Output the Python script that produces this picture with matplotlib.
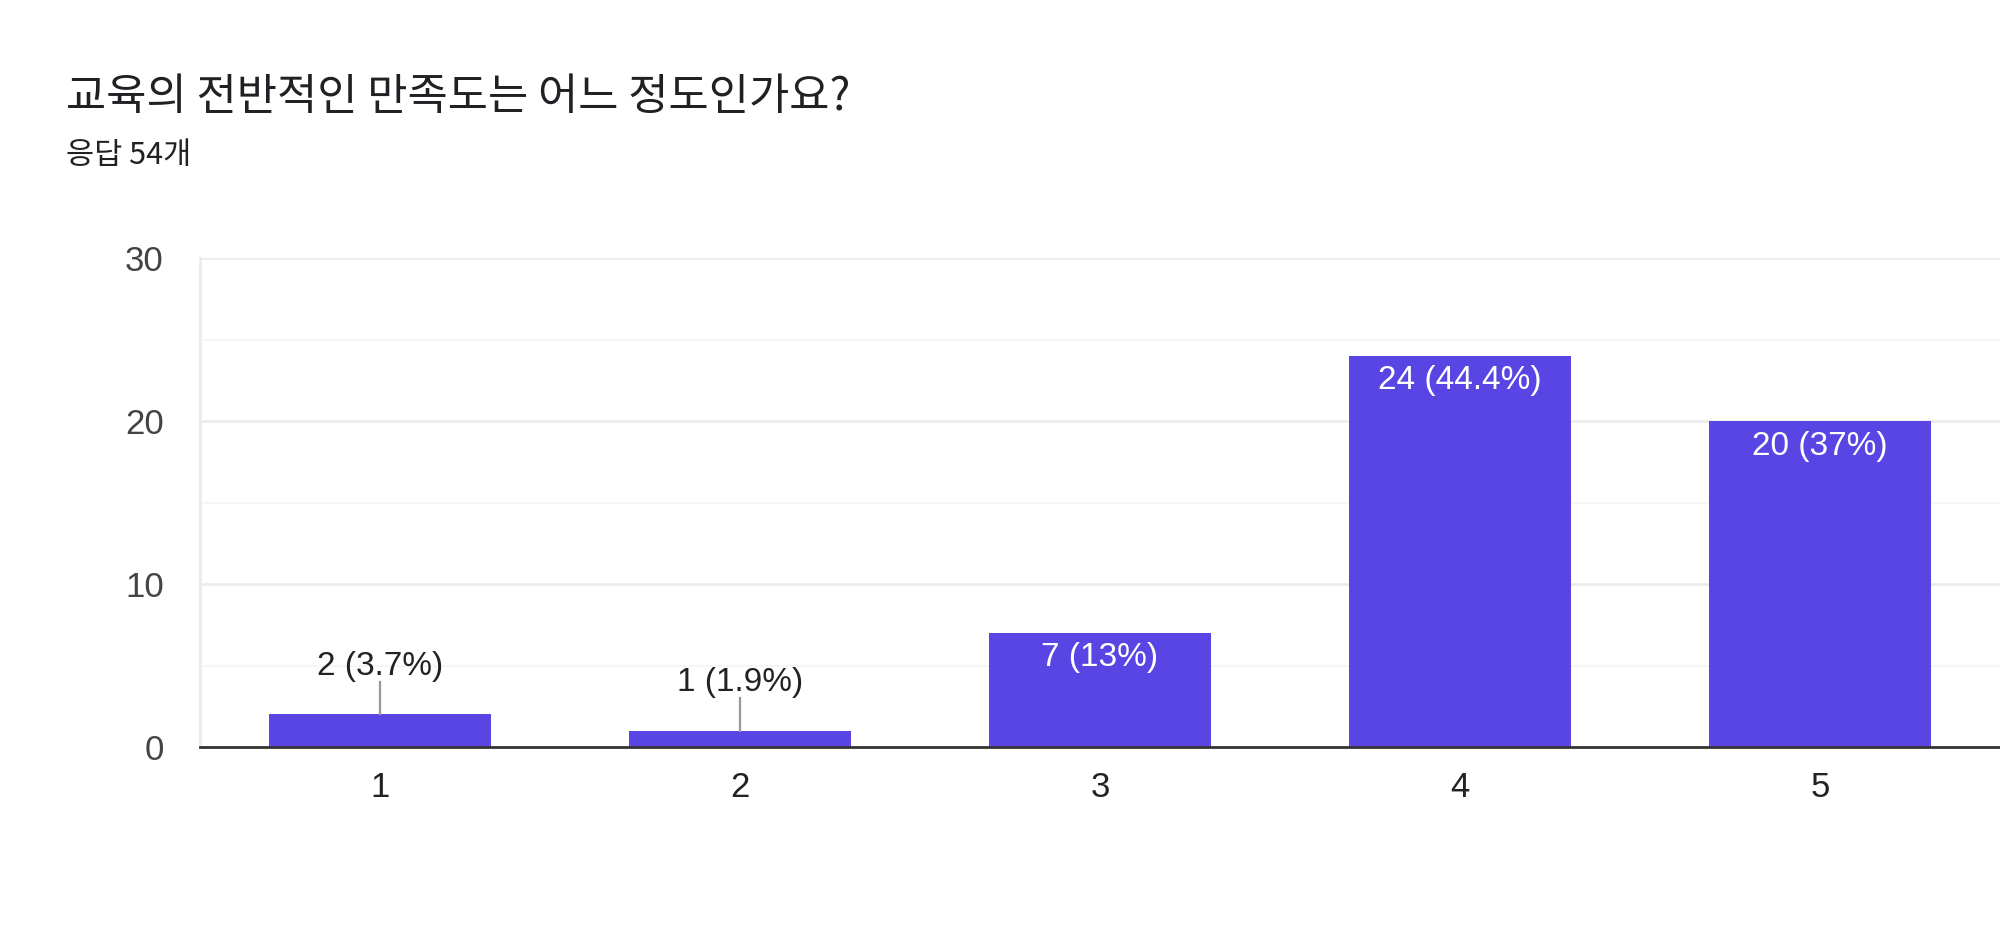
import matplotlib.pyplot as plt
from matplotlib.ticker import MultipleLocator

# 응답 데이터
categories = ["1", "2", "3", "4", "5"]
counts = [2, 1, 7, 24, 20]
labels = ["2 (3.7%)", "1 (1.9%)", "7 (13%)", "24 (44.4%)", "20 (37%)"]
inside = [False, False, True, True, True]

title = "교육의 전반적인 만족도는 어느 정도인가요?"
subtitle = "응답 54개"

fonts = ["Liberation Sans", "Noto Sans CJK KR", "DejaVu Sans"]
plt.rcParams["font.family"] = fonts

bar_color = "#5845e3"

fig = plt.figure(figsize=(20, 9.51), dpi=100)
ax = fig.add_axes([0.1, 0.2145, 0.9, 0.5142])

x = list(range(len(categories)))
ax.bar(x, counts, width=0.617, color=bar_color, zorder=3)

ax.set_xlim(-0.5, 4.5)
ax.set_ylim(0, 30)
ax.yaxis.set_major_locator(MultipleLocator(10))
ax.yaxis.set_minor_locator(MultipleLocator(5))
ax.set_xticks(x)
ax.set_xticklabels(categories)

ax.grid(axis="y", which="major", color="#ebebeb", linewidth=1.8, zorder=0)
ax.grid(axis="y", which="minor", color="#f6f6f6", linewidth=1.5, zorder=0)

for s in ["right", "top"]:
    ax.spines[s].set_visible(False)
ax.spines["left"].set_color("#ebebeb")
ax.spines["left"].set_linewidth(2)
ax.spines["bottom"].set_color("#333333")
ax.spines["bottom"].set_linewidth(2)
ax.spines["bottom"].set_zorder(4)

ax.tick_params(axis="both", which="both", length=0)
ax.tick_params(axis="y", labelsize=25, labelcolor="#444444", pad=26)
ax.tick_params(axis="x", labelsize=25, labelcolor="#222222", pad=17)

for xi, c, lab, ins in zip(x, counts, labels, inside):
    if ins:
        ax.annotate(lab, (xi, c), xytext=(0, -18), textcoords="offset points",
                    ha="center", va="center", fontsize=24, color="white", zorder=5)
    else:
        ax.plot([xi, xi], [c, c + 2], color="#999999", linewidth=1.6, zorder=4)
        ax.annotate(lab, (xi, c + 2), xytext=(0, 11), textcoords="offset points",
                    ha="center", va="center", fontsize=24, color="#222222", zorder=5)

fig.text(0.033, 0.898, title, fontsize=31.5, color="#202124", va="center",
         family=["Noto Sans CJK KR", "DejaVu Sans"])
fig.text(0.033, 0.836, subtitle, fontsize=22, color="#202124", va="center",
         family=["Noto Sans CJK KR", "DejaVu Sans"])

fig.savefig("out.png", dpi=100)
